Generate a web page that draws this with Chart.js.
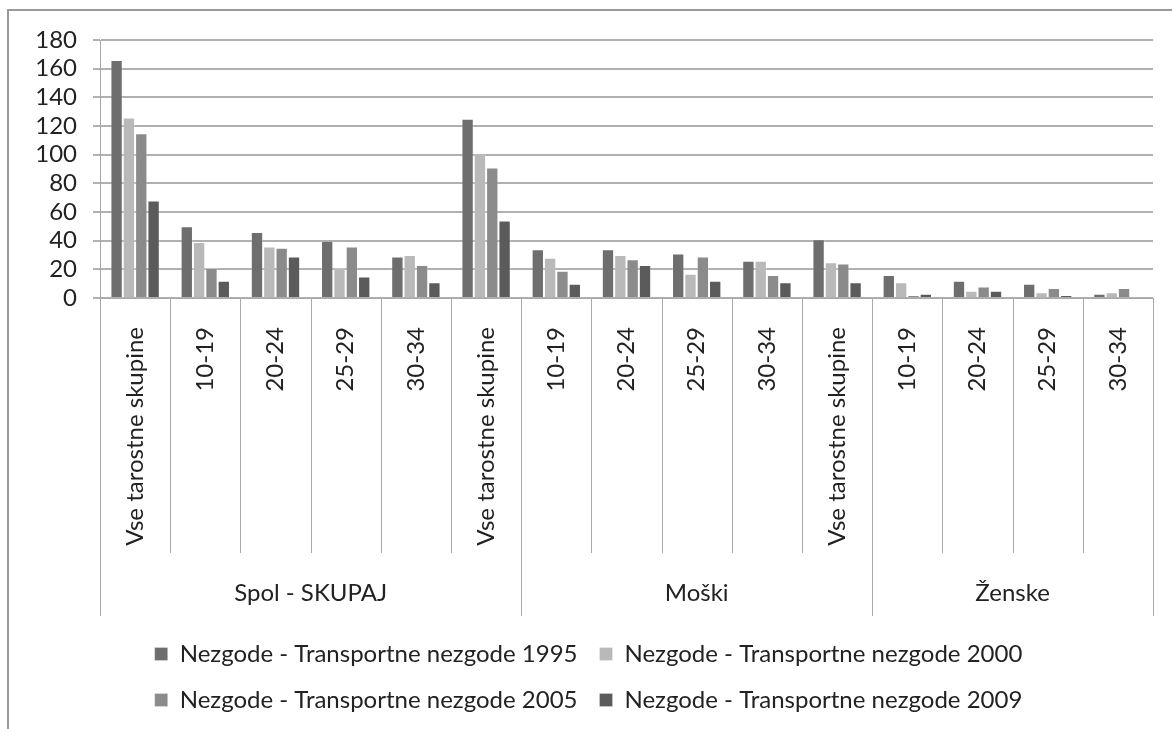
<!DOCTYPE html>
<html>
<head>
<meta charset="utf-8">
<script src="https://cdn.jsdelivr.net/npm/chart.js@4"></script>
<style>
html,body{margin:0;padding:0;background:#fff;overflow:hidden;width:1172px;height:729px;}
#wrap{position:relative;width:1172px;height:729px;overflow:hidden;}
#frame{position:absolute;left:7px;top:9px;width:1300px;height:800px;border-left:2px solid #9a9a9a;border-top:2px solid #9a9a9a;}
#c{position:absolute;left:24px;top:0;display:block;}
</style>
</head>
<body>
<div id="wrap"><div id="frame"></div><canvas id="c" width="1168" height="722"></canvas></div>
<script>
const categories = ["Vse tarostne skupine","10-19","20-24","25-29","30-34","Vse tarostne skupine","10-19","20-24","25-29","30-34","Vse tarostne skupine","10-19","20-24","25-29","30-34"];
const groupLabels = ["Spol - SKUPAJ","Moški","Ženske"];
const groupSizes = [6,5,4];
const seriesNames = ["Nezgode - Transportne nezgode 1995","Nezgode - Transportne nezgode 2000","Nezgode - Transportne nezgode 2005","Nezgode - Transportne nezgode 2009"];
const v1995 = [166,50,46,40,29,125,34,34,31,26,41,16,12,10,3];
const v2000 = [126,39,36,21,30,101,28,30,17,26,25,11,5,4,4];
const v2005 = [115,21,35,36,23,91,19,27,29,16,24,2,8,7,7];
const v2009 = [68,12,29,15,11,54,10,23,12,11,11,3,5,2,null];
const yTicks = [0,20,40,60,80,100,120,140,160,180];

const colors = ['#6e6e6e','#b9b9b9','#8b8b8b','#5b5b5b'];
const FONT = 'Lato, Carlito, "Open Sans", sans-serif';
const FS = 24;

const decor = {
  id:'decor',
  afterDraw(chart){
    const ctx = chart.ctx, x = chart.scales.x, ca = chart.chartArea;
    const half = (x.getPixelForValue(1) - x.getPixelForValue(0)) / 2;
    const base = ca.bottom;
    ctx.save();
    ctx.strokeStyle = '#a8a8a8';
    ctx.lineWidth = 1;
    const groupStarts = [0];
    groupSizes.forEach(s => groupStarts.push(groupStarts[groupStarts.length-1] + s));
    for (let i = 0; i <= categories.length; i++) {
      const px = Math.round(x.getPixelForValue(i) - half) + 0.5;
      const isGroup = groupStarts.includes(i);
      ctx.beginPath();
      ctx.moveTo(px, base);
      ctx.lineTo(px, isGroup ? base + 318 : base + 255);
      ctx.stroke();
    }
    ctx.fillStyle = '#222';
    ctx.font = FS + 'px ' + FONT;
    ctx.textAlign = 'center';
    ctx.textBaseline = 'middle';
    for (let g = 0; g < groupLabels.length; g++) {
      const l = x.getPixelForValue(groupStarts[g]) - half;
      const r = x.getPixelForValue(groupStarts[g+1]) - half;
      ctx.fillText(groupLabels[g], (l + r) / 2, base + 295);
    }
    ctx.restore();
  }
};

const mk = (i, data) => ({
  label: seriesNames[i], data, backgroundColor: colors[i],
  borderColor: 'rgba(255,255,255,0.25)', borderWidth: 1,
  categoryPercentage: 0.703, barPercentage: 1.0
});

new Chart(document.getElementById('c'), {
  type: 'bar',
  data: { labels: categories, datasets: [mk(0,v1995), mk(1,v2000), mk(2,v2005), mk(3,v2009)] },
  options: {
    responsive: false, animation: false, devicePixelRatio: 1,
    layout: { padding: { left: 0, right: 39, top: 40, bottom: 0 } },
    plugins: {
      tooltip: { enabled: false },
      legend: {
        position: 'bottom',
        labels: { font: { family: FONT, size: FS }, color: '#222', boxWidth: 13, boxHeight: 13, padding: 22 }
      }
    },
    scales: {
      x: {
        grid: { display: false },
        border: { display: true, color: '#a8a8a8', width: 1 },
        ticks: { autoSkip: false, minRotation: 90, maxRotation: 90, padding: 21, color: '#222', font: { family: FONT, size: FS } },
        afterFit(s){ s.height = 322; }
      },
      y: {
        min: 0, max: 180,
        afterBuildTicks(s){ s.ticks = yTicks.map(v => ({ value: v })); },
        grid: { color: '#b0b0b0', lineWidth: 2, tickLength: 7 },
        border: { display: true, color: '#a8a8a8', width: 1 },
        ticks: { autoSkip: false, padding: 16, color: '#222', font: { family: FONT, size: FS } },
        afterFit(s){ s.width = 76; }
      }
    }
  },
  plugins: [decor]
});
</script>
</body>
</html>
